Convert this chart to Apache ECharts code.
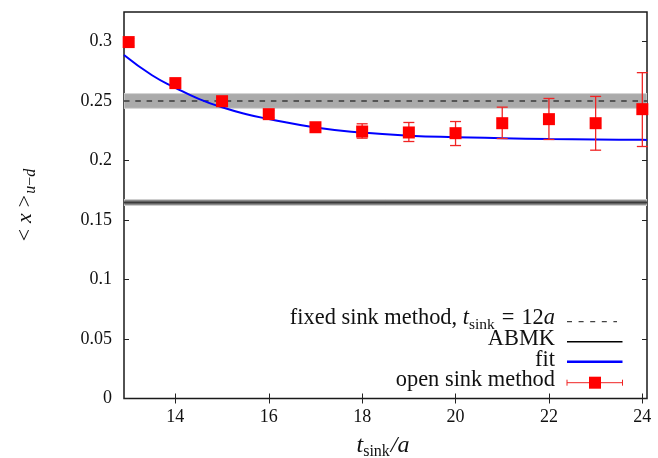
<!DOCTYPE html>
<html>
<head>
<meta charset="utf-8">
<script src="https://cdn.jsdelivr.net/npm/echarts@6/dist/echarts.min.js"></script>
<style>
  html, body { margin: 0; padding: 0; background: #fff; }
  #chart { width: 658px; height: 458px; }
</style>
</head>
<body>
<div id="chart"></div>
<script>
// open sink method: t_sink/a, central values and error range
const tSink        = [13, 14, 15, 16, 17, 18, 19, 20, 21, 22, 23, 24];
const openSink     = [0.2997, 0.2652, 0.2500, 0.2391, 0.2281, 0.2245, 0.2237, 0.2231, 0.2315, 0.2349, 0.2315, 0.2433];
const openSinkLow  = [0.2967, 0.2622, 0.2470, 0.2361, 0.2251, 0.2189, 0.2161, 0.2127, 0.2186, 0.2178, 0.2088, 0.2119];
const openSinkHigh = [0.3027, 0.2682, 0.2530, 0.2421, 0.2311, 0.2310, 0.2321, 0.2329, 0.2450, 0.2523, 0.2540, 0.2740];

// fit curve sampled along t_sink/a
const fitT   = [12.9, 13.5, 14, 14.5, 15, 15.5, 16, 17, 18, 19, 20, 21, 22, 23, 24, 24.1];
const fitVal = [0.2888, 0.2718, 0.2613, 0.2520, 0.2449, 0.2393, 0.2350, 0.2279, 0.2236, 0.2210, 0.2197, 0.2189, 0.2182, 0.2178, 0.2175, 0.2174];

// horizontal reference results: [central value, error]
const fixedSink = [0.2502, 0.0062];
const abmk      = [0.1648, 0.0025];

// axis ticks
const xTicks = [14, 16, 18, 20, 22, 24];
const yTicks = [0, 0.05, 0.1, 0.15, 0.2, 0.25, 0.3];

const X_MIN = 12.9, X_MAX = 24.1, Y_MIN = 0, Y_MAX = 0.325;
const FONT = '"Liberation Serif", "Times New Roman", serif';
const RED = '#ff0000';
const ERR_RED = '#f02424';

const measureCtx = document.createElement('canvas').getContext('2d');
function fontStr(s) { return (s.italic ? 'italic ' : '') + s.size + 'px ' + FONT; }

// lay out a run of text pieces (normal / italic / subscript) on one line
function textRun(segs, x, y, align, color) {
  const widths = segs.map(s => { measureCtx.font = fontStr(s); return measureCtx.measureText(s.text).width; });
  const total = widths.reduce((a, b) => a + b, 0) + segs.reduce((a, s) => a + (s.gap || 0), 0);
  let cx = align === 'right' ? x - total : align === 'center' ? x - total / 2 : x;
  return segs.map((s, i) => {
    cx += s.gap || 0;
    const el = {
      type: 'text', x: cx, y: y + (s.dy || 0), silent: true,
      style: { text: s.text, font: fontStr(s), fill: color || '#111',
               align: 'left', verticalAlign: 'middle', textAlign: 'left', textVerticalAlign: 'middle' }
    };
    cx += widths[i];
    return el;
  });
}

const chart = echarts.init(document.getElementById('chart'), null, { renderer: 'canvas' });

function bandRenderer(fill, edge, lineColor, lineWidth, dash) {
  return function (params, api) {
    const c = api.value(0), e = api.value(1);
    const cs = params.coordSys;
    const yTop = api.coord([X_MIN, c + e])[1];
    const yBot = api.coord([X_MIN, c - e])[1];
    const yMid = api.coord([X_MIN, c])[1];
    return {
      type: 'group',
      children: [
        { type: 'rect', shape: { x: cs.x, y: yTop, width: cs.width, height: yBot - yTop },
          style: { fill: fill, stroke: edge, lineWidth: 1 } },
        { type: 'line', shape: { x1: cs.x, y1: yMid, x2: cs.x + cs.width, y2: yMid },
          style: { stroke: lineColor, lineWidth: lineWidth, lineDash: dash || null } }
      ]
    };
  };
}

const LEG_RIGHT = 555, S0 = 567, S1 = 622.5, LEG_SIZE = 22.4, SUB = 15.5;
const legendRows = [318.5, 339.2, 359.9, 380.6];

const graphics = [].concat(
  textRun([
    { text: 'fixed sink method, ', size: LEG_SIZE },
    { text: 't', size: LEG_SIZE, italic: true },
    { text: 'sink', size: SUB, dy: 6 },
    { text: '=', size: LEG_SIZE, gap: 7 },
    { text: '12', size: LEG_SIZE, gap: 7 },
    { text: 'a', size: LEG_SIZE, italic: true }
  ], LEG_RIGHT, legendRows[0], 'right'),
  textRun([{ text: 'ABMK', size: LEG_SIZE }], LEG_RIGHT, legendRows[1], 'right'),
  textRun([{ text: 'fit', size: LEG_SIZE }], LEG_RIGHT, legendRows[2], 'right'),
  textRun([{ text: 'open sink method', size: LEG_SIZE }], LEG_RIGHT, legendRows[3], 'right'),
  [
    { type: 'line', silent: true, shape: { x1: S0, y1: 321.7, x2: 617, y2: 321.7 },
      style: { stroke: '#444', lineWidth: 1.3, lineDash: [5, 6.6] } },
    { type: 'line', silent: true, shape: { x1: S0, y1: 341.7, x2: S1, y2: 341.7 },
      style: { stroke: '#000', lineWidth: 1.5 } },
    { type: 'line', silent: true, shape: { x1: S0, y1: 361.7, x2: S1, y2: 361.7 },
      style: { stroke: '#0000ff', lineWidth: 2.5 } },
    { type: 'line', silent: true, shape: { x1: S0, y1: 382.7, x2: S1, y2: 382.7 },
      style: { stroke: ERR_RED, lineWidth: 1 } },
    { type: 'line', silent: true, shape: { x1: S0, y1: 379.7, x2: S0, y2: 385.7 },
      style: { stroke: ERR_RED, lineWidth: 1 } },
    { type: 'line', silent: true, shape: { x1: S1, y1: 379.7, x2: S1, y2: 385.7 },
      style: { stroke: ERR_RED, lineWidth: 1 } },
    { type: 'rect', silent: true, shape: { x: 589, y: 376.7, width: 12, height: 12 },
      style: { fill: RED } }
  ],
  // x axis title: t_sink / a
  textRun([
    { text: 't', size: 24, italic: true },
    { text: 'sink', size: 16, dy: 6 },
    { text: '/', size: 24, italic: true, gap: 1 },
    { text: 'a', size: 24, italic: true }
  ], 383, 446, 'center'),
  // y axis title: < x >_{u-d}, rotated
  [{
    type: 'group', x: 25, y: 205, rotation: Math.PI / 2,
    children: textRun([
      { text: '<', size: 22 },
      { text: 'x', size: 22, italic: true, gap: 6 },
      { text: '>', size: 22, gap: 6 },
      { text: 'u', size: 16, italic: true, dy: 6, gap: 1 },
      { text: '\u2212', size: 16, dy: 6 },
      { text: 'd', size: 16, italic: true, dy: 6 }
    ], 0, 0, 'center')
  }]
);

const axisFont = { fontFamily: FONT, fontSize: 18, color: '#111' };
const tickStyle = { color: '#222', width: 1 };

chart.setOption({
  animation: false,
  backgroundColor: '#fff',
  grid: { left: 124, top: 12, width: 523, height: 386.5, show: true,
          borderColor: '#1a1a1a', borderWidth: 1.5, backgroundColor: 'transparent' },
  xAxis: [
    { type: 'value', position: 'bottom', min: X_MIN, max: X_MAX,
      axisLine: { show: false }, splitLine: { show: false },
      axisTick: { inside: true, length: 5, customValues: xTicks, lineStyle: tickStyle },
      axisLabel: Object.assign({ customValues: xTicks, margin: 10 }, axisFont) },
    { type: 'value', position: 'top', min: X_MIN, max: X_MAX,
      axisLine: { show: false }, splitLine: { show: false },
      axisTick: { inside: true, length: 5, customValues: xTicks, lineStyle: tickStyle },
      axisLabel: { show: false } }
  ],
  yAxis: [
    { type: 'value', position: 'left', min: Y_MIN, max: Y_MAX,
      axisLine: { show: false }, splitLine: { show: false },
      axisTick: { inside: true, length: 5, customValues: yTicks, lineStyle: tickStyle },
      axisLabel: Object.assign({ customValues: yTicks, margin: 12 }, axisFont) },
    { type: 'value', position: 'right', min: Y_MIN, max: Y_MAX,
      axisLine: { show: false }, splitLine: { show: false },
      axisTick: { inside: true, length: 5, customValues: yTicks, lineStyle: tickStyle },
      axisLabel: { show: false } }
  ],
  graphic: { elements: graphics },
  series: [
    { name: 'fixed sink method', type: 'custom', z: 1, clip: true,
      data: [fixedSink],
      renderItem: bandRenderer('#aaaaaa', '#d4d4d4', '#3a3a3a', 1.5, [5.5, 5.8]) },
    { name: 'ABMK', type: 'custom', z: 1, clip: true,
      data: [abmk],
      renderItem: bandRenderer('#8a8a8a', '#cfcfcf', '#3a3a3a', 2) },
    { name: 'fit', type: 'line', z: 3, smooth: true, symbol: 'none',
      data: fitT.map((t, i) => [t, fitVal[i]]),
      lineStyle: { color: '#0000ff', width: 2 } },
    { name: 'open sink method errors', type: 'custom', z: 4,
      data: tSink.map((t, i) => [t, openSinkLow[i], openSinkHigh[i]]),
      encode: { x: 0, y: [1, 2] },
      renderItem: function (params, api) {
        const x = api.value(0);
        const pLo = api.coord([x, api.value(1)]);
        const pHi = api.coord([x, api.value(2)]);
        const w = 5.5;
        const style = { stroke: ERR_RED, lineWidth: 1.3 };
        return { type: 'group', children: [
          { type: 'line', shape: { x1: pLo[0], y1: pLo[1], x2: pHi[0], y2: pHi[1] }, style: style },
          { type: 'line', shape: { x1: pLo[0] - w, y1: pLo[1], x2: pLo[0] + w, y2: pLo[1] }, style: style },
          { type: 'line', shape: { x1: pHi[0] - w, y1: pHi[1], x2: pHi[0] + w, y2: pHi[1] }, style: style }
        ] };
      } },
    { name: 'open sink method', type: 'scatter', z: 5, symbol: 'rect', symbolSize: 12,
      data: tSink.map((t, i) => [t, openSink[i]]),
      itemStyle: { color: RED, opacity: 1 } }
  ]
});
</script>
</body>
</html>
